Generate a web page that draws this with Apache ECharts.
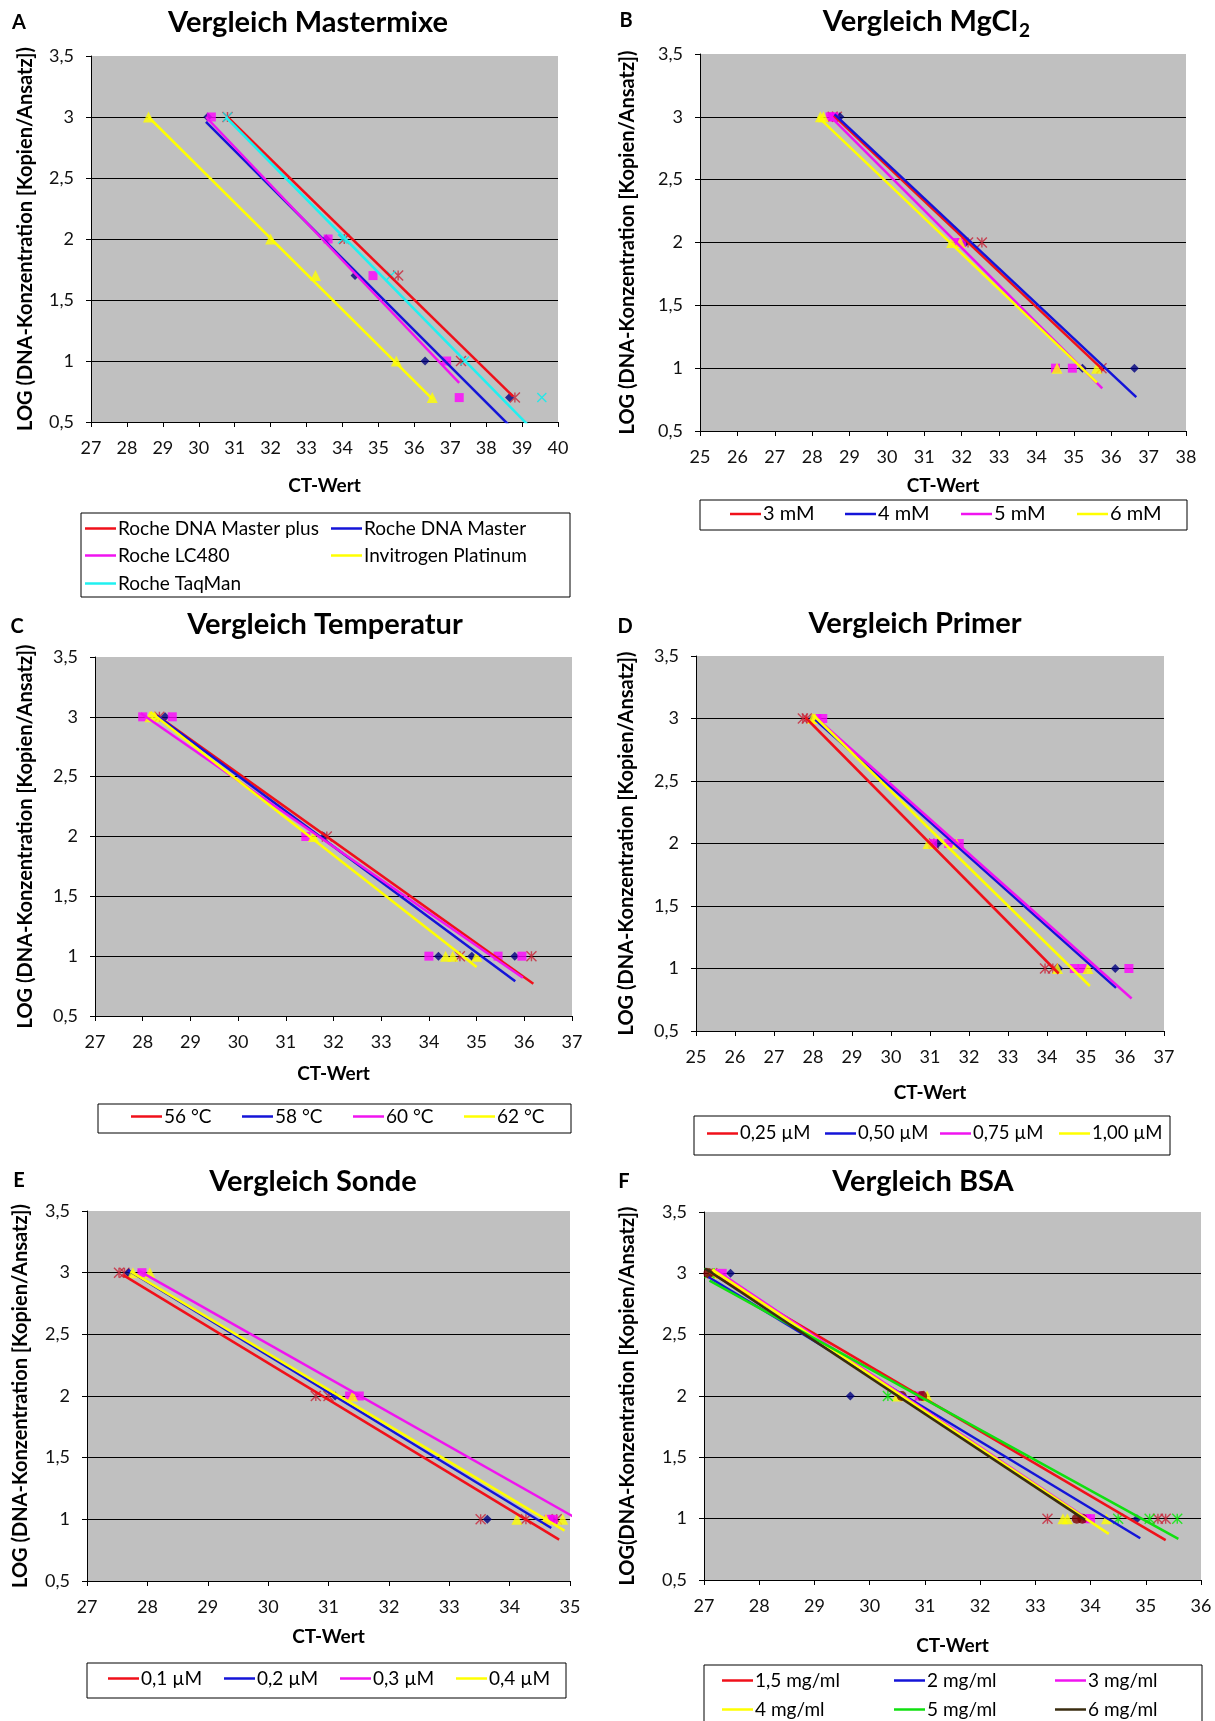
<!DOCTYPE html>
<html><head><meta charset="utf-8">
<script src="https://cdn.jsdelivr.net/npm/echarts@6/dist/echarts.min.js"></script>
<style>html,body{margin:0;padding:0;background:#fff}#c{width:1215px;height:1721px}</style>
</head><body><div id="c"></div>
<script>
// ---------------- DATA ----------------
// Y tick values shared by all panels
const yTicks = [0.5, 1, 1.5, 2, 2.5, 3, 3.5];

// A: Vergleich Mastermixe
const namesA = ['Roche DNA Master plus', 'Roche DNA Master', 'Roche LC480', 'Invitrogen Platinum', 'Roche TaqMan'];
const ptsA_masterPlus = [[30.8,3],[34.05,2],[35.55,1.7],[37.3,1],[38.8,0.7]];
const ptsA_master     = [[30.25,3],[33.55,2],[34.35,1.7],[36.3,1],[38.65,0.7]];
const ptsA_lc480      = [[30.35,3],[33.6,2],[34.85,1.7],[36.9,1],[37.25,0.7]];
const ptsA_invitrogen = [[28.6,3],[32.0,2],[33.25,1.7],[35.5,1],[36.5,0.7]];
const ptsA_taqman     = [[30.8,3],[34.0,2],[35.35,1.7],[37.4,1],[39.55,0.7]];
const fitA_masterPlus = [[30.8,3.0],[38.75,0.71]];
const fitA_master     = [[30.2,2.96],[38.65,0.47]];
const fitA_lc480      = [[30.2,3.0],[37.25,0.82]];
const fitA_invitrogen = [[28.6,3.0],[36.5,0.69]];
const fitA_taqman     = [[30.75,3.0],[39.55,0.36]];

// B: Vergleich MgCl2
const namesB = ['3 mM', '4 mM', '5 mM', '6 mM'];
const ptsB_3 = [[28.55,3],[28.66,3],[32.17,2],[32.54,2],[35.74,1]];
const ptsB_4 = [[28.74,3],[32.1,2],[35.23,1],[36.62,1]];
const ptsB_5 = [[28.48,3],[28.58,3],[31.85,2],[32.0,2],[34.51,1],[34.96,1]];
const ptsB_6 = [[28.22,3],[28.3,3],[31.73,2],[31.96,2],[34.55,1],[35.61,1]];
const fitB_3 = [[28.58,3.01],[35.8,0.98]];
const fitB_4 = [[28.6,3.02],[36.67,0.77]];
const fitB_5 = [[28.43,3.02],[35.76,0.84]];
const fitB_6 = [[28.16,3.0],[35.62,0.885]];

// C: Vergleich Temperatur
const namesC = ['56 °C', '58 °C', '60 °C', '62 °C'];
const ptsC_56 = [[28.35,3],[31.86,2],[34.65,1],[36.15,1]];
const ptsC_58 = [[28.47,3],[31.8,2],[34.2,1],[34.9,1],[35.8,1]];
const ptsC_60 = [[28.0,3],[28.62,3],[31.42,2],[34.0,1],[35.45,1],[35.95,1]];
const ptsC_62 = [[28.15,3],[28.25,3],[31.58,2],[34.35,1],[34.5,1],[35.0,1]];
const fitC_56 = [[28.3,3.01],[36.19,0.77]];
const fitC_58 = [[28.3,3.01],[35.81,0.79]];
const fitC_60 = [[27.96,3.03],[35.97,0.82]];
const fitC_62 = [[28.16,3.04],[35.0,0.91]];

// D: Vergleich Primer
const namesD = ['0,25 µM', '0,50 µM', '0,75 µM', '1,00 µM'];
const ptsD_025 = [[27.74,3],[27.84,3],[31.1,2],[33.95,1],[34.15,1]];
const ptsD_050 = [[28.0,3],[31.2,2],[34.3,1],[35.75,1]];
const ptsD_075 = [[28.1,3],[28.25,3],[31.07,2],[31.48,2],[31.75,2],[34.7,1],[34.9,1],[36.1,1]];
const ptsD_100 = [[27.99,3],[28.05,3],[30.95,2],[31.68,2],[34.27,1],[35.05,1]];
const fitD_025 = [[27.8,3.01],[34.3,0.96]];
const fitD_050 = [[28.06,2.99],[35.77,0.845]];
const fitD_075 = [[28.1,3.0],[36.17,0.76]];
const fitD_100 = [[28.0,3.03],[35.1,0.86]];

// E: Vergleich Sonde
const namesE = ['0,1 µM', '0,2 µM', '0,3 µM', '0,4 µM'];
const ptsE_01 = [[27.53,3],[27.62,3],[30.79,2],[31.0,2],[33.52,1],[34.27,1],[34.78,1]];
const ptsE_02 = [[27.69,3],[31.11,2],[33.63,1],[34.69,1]];
const ptsE_03 = [[27.91,3],[31.35,2],[31.51,2],[34.65,1],[34.72,1]];
const ptsE_04 = [[27.76,3],[28.04,3],[31.4,2],[34.12,1],[34.6,1],[34.88,1]];
const fitE_01 = [[27.6,2.98],[34.82,0.836]];
const fitE_02 = [[27.68,3.02],[34.69,0.93]];
const fitE_03 = [[27.84,3.02],[35.1,1.01]];
const fitE_04 = [[27.72,3.01],[34.91,0.908]];

// F: Vergleich BSA
const namesF = ['1,5 mg/ml', '2 mg/ml', '3 mg/ml', '4 mg/ml', '5 mg/ml', '6 mg/ml'];
const ptsF_15 = [[27.15,3],[30.9,2],[33.22,1],[35.22,1],[35.36,1]];
const ptsF_2  = [[27.48,3],[29.65,2],[34.84,1]];
const ptsF_3  = [[27.33,3],[30.9,2],[33.93,1],[34.0,1]];
const ptsF_4  = [[27.2,3],[30.5,2],[31.04,2],[33.5,1],[33.58,1],[34.29,1]];
const ptsF_5  = [[27.1,3],[30.33,2],[34.5,1],[35.07,1],[35.57,1]];
const ptsF_6  = [[27.08,3],[30.58,2],[30.95,2],[33.75,1],[33.85,1]];
const fitF_15 = [[27.1,3.01],[35.36,0.825]];
const fitF_2  = [[27.08,2.97],[34.9,0.84]];
const fitF_3  = [[27.2,3.03],[34.0,0.98]];
const fitF_4  = [[27.15,3.03],[34.33,0.876]];
const fitF_5  = [[27.1,2.94],[35.59,0.835]];
const fitF_6  = [[27.02,3.04],[33.9,0.99]];

// ---------------- STYLE / LAYOUT ----------------
const FONT = 'Lato, "Open Sans", sans-serif';
const C = {red:'#f0101a', blue:'#1414d8', mag:'#f014f0', yel:'#ffff00', cyan:'#20f0f0', green:'#10e010', brown:'#3a2c10'};
const STAR = 'path://M0,0L10,10M10,0L0,10M5,0L5,10';
const XMK = 'path://M0,0L10,10M10,0L0,10';
const MK = {
  star:{symbol:STAR, size:10, stroke:'#c82438'},
  diamond:{symbol:'diamond', size:9, fill:'#000080'},
  square:{symbol:'rect', size:9, fill:'#ff00ff'},
  tri:{symbol:'triangle', size:11, fill:'#ffff00'},
  x:{symbol:XMK, size:9, stroke:'#00f0f0'},
  gstar:{symbol:STAR, size:10, stroke:'#00ee00'},
  circle:{symbol:'circle', size:10, fill:'#800000'}
};
const YNAME = 'LOG (DNA-Konzentration [Kopien/Ansatz])';
const TICK_FS = 18, NAME_FS = 19, YNAME_FS = 20, TITLE_FS = 29;

const panels = [
  {names:namesA, pts:[ptsA_masterPlus,ptsA_master,ptsA_lc480,ptsA_invitrogen,ptsA_taqman],
   fits:[fitA_masterPlus,fitA_master,fitA_lc480,fitA_invitrogen,fitA_taqman],
   colors:[C.red,C.blue,C.mag,C.yel,C.cyan], marks:[MK.star,MK.diamond,MK.square,MK.tri,MK.x],
   xMin:27, xMax:40, grid:{left:91,top:56,width:467,height:366}, yGap:55, xGap:54, yName:YNAME,
   leg:[[85,530],[331,530],[85,557],[331,557],[85,585]], legFs:19, box:[81,513,489,84],
   title:'Vergleich Mastermixe', tx:308, ty:23, letter:'A', lx:19, ly:23},
  {names:namesB, pts:[ptsB_3,ptsB_4,ptsB_5,ptsB_6], fits:[fitB_3,fitB_4,fitB_5,fitB_6],
   colors:[C.red,C.blue,C.mag,C.yel], marks:[MK.star,MK.diamond,MK.square,MK.tri],
   xMin:25, xMax:38, grid:{left:700,top:54,width:486,height:377}, yGap:62, xGap:45, yName:YNAME,
   leg:[[730,515],[845,515],[961,515],[1077,515]], legFs:20, box:[700,500,487,30],
   title:null, letter:'B', lx:626, ly:21},
  {names:namesC, pts:[ptsC_56,ptsC_58,ptsC_60,ptsC_62], fits:[fitC_56,fitC_58,fitC_60,fitC_62],
   colors:[C.red,C.blue,C.mag,C.yel], marks:[MK.star,MK.diamond,MK.square,MK.tri],
   xMin:27, xMax:37, grid:{left:95,top:657,width:477,height:359}, yGap:59, xGap:48, yName:YNAME,
   leg:[[131,1118],[242,1118],[353,1118],[464,1118]], legFs:19, box:[98,1104,473,29],
   title:'Vergleich Temperatur', tx:325, ty:625, letter:'C', lx:17, ly:627},
  {names:namesD, pts:[ptsD_025,ptsD_050,ptsD_075,ptsD_100], fits:[fitD_025,fitD_050,fitD_075,fitD_100],
   colors:[C.red,C.blue,C.mag,C.yel], marks:[MK.star,MK.diamond,MK.square,MK.tri],
   xMin:25, xMax:37, grid:{left:696,top:656,width:468,height:375}, yGap:59, xGap:52, yName:YNAME,
   leg:[[707,1135],[825,1135],[940,1135],[1059,1135]], legFs:18.5, box:[694,1116,476,39],
   title:'Vergleich Primer', tx:915, ty:624, letter:'D', lx:625, ly:627},
  {names:namesE, pts:[ptsE_01,ptsE_02,ptsE_03,ptsE_04], fits:[fitE_01,fitE_02,fitE_03,fitE_04],
   colors:[C.red,C.blue,C.mag,C.yel], marks:[MK.star,MK.diamond,MK.square,MK.tri],
   xMin:27, xMax:35, grid:{left:87,top:1211,width:483,height:370}, yGap:56, xGap:46, yName:YNAME,
   leg:[[108,1680],[224,1680],[340,1680],[456,1680]], legFs:19, box:[87,1663,479,35],
   title:'Vergleich Sonde', tx:313, ty:1182, letter:'E', lx:19, ly:1181},
  {names:namesF, pts:[ptsF_15,ptsF_2,ptsF_3,ptsF_4,ptsF_5,ptsF_6], fits:[fitF_15,fitF_2,fitF_3,fitF_4,fitF_5,fitF_6],
   colors:[C.red,C.blue,C.mag,C.yel,C.green,C.brown], marks:[MK.star,MK.diamond,MK.square,MK.tri,MK.gstar,MK.circle],
   xMin:27, xMax:36, grid:{left:704,top:1212,width:497,height:368}, yGap:66, xGap:56, yName:'LOG(DNA-Konzentration [Kopien/Ansatz])',
   leg:[[722,1682],[894,1682],[1055,1682],[722,1711],[894,1711],[1055,1711]], legFs:19, box:[704,1665,498,70],
   title:'Vergleich BSA', tx:923, ty:1182, letter:'F', lx:624, ly:1182}
];

const fmt = v => String(Math.round(v*10)/10).replace('.', ',');

const option = {animation:false, backgroundColor:'#fff', grid:[], xAxis:[], yAxis:[], series:[], legend:[], graphic:[]};

panels.forEach((p, k) => {
  option.grid.push(Object.assign({show:true, backgroundColor:'#c0c0c0', borderWidth:0, containLabel:false, outerBoundsMode:'none'}, p.grid));
  option.xAxis.push({gridIndex:k, type:'value', min:p.xMin, max:p.xMax, interval:1,
    name:'CT-Wert', nameLocation:'middle', nameGap:p.xGap,
    nameTextStyle:{fontFamily:FONT, fontWeight:'bold', fontSize:NAME_FS, color:'#000'},
    axisLine:{show:true, onZero:false, lineStyle:{color:'#000', width:1}},
    axisTick:{show:true, length:5, lineStyle:{color:'#000'}},
    axisLabel:{fontFamily:FONT, fontSize:TICK_FS, color:'#111', margin:17, formatter:fmt},
    splitLine:{show:false}});
  option.yAxis.push({gridIndex:k, type:'value', min:yTicks[0], max:yTicks[yTicks.length-1], interval:0.5,
    name:p.yName, nameLocation:'middle', nameGap:p.yGap,
    nameTextStyle:{fontFamily:FONT, fontWeight:'bold', fontSize:YNAME_FS, color:'#000'},
    axisLine:{show:true, onZero:false, lineStyle:{color:'#000', width:1}},
    axisTick:{show:true, length:5, lineStyle:{color:'#000'}},
    axisLabel:{fontFamily:FONT, fontSize:TICK_FS, color:'#111', margin:17, formatter:fmt},
    splitLine:{show:true, showMaxLine:false, lineStyle:{color:'#000', width:1.2}}});
  p.names.forEach((nm, i) => {
    const m = p.marks[i];
    option.series.push({type:'scatter', name:nm + ' (Messwerte)', xAxisIndex:k, yAxisIndex:k,
      data:p.pts[i], symbol:m.symbol, symbolSize:m.size, z:2,
      itemStyle: m.stroke ? {color:'rgba(0,0,0,0)', borderColor:m.stroke, borderWidth:1.4}
                          : {color:m.fill, borderWidth:0}});
    option.series.push({type:'line', name:nm, xAxisIndex:k, yAxisIndex:k, data:p.fits[i],
      showSymbol:false, symbol:'none', color:p.colors[i], itemStyle:{color:p.colors[i]},
      lineStyle:{color:p.colors[i], width:2.5}, z:3, clip:true});
    option.legend.push({left:p.leg[i][0], top:p.leg[i][1]-11, data:[nm], icon:'rect',
      itemWidth:31, itemHeight:2.5, padding:0, selectedMode:false,
      textStyle:{fontFamily:FONT, fontSize:p.legFs, color:'#000', padding:[0,0,0,-3]}});
  });
  option.graphic.push({type:'rect', shape:{x:p.box[0], y:p.box[1], width:p.box[2], height:p.box[3]},
    style:{fill:'none', stroke:'#000', lineWidth:1}, silent:true});
  option.graphic.push({type:'text', x:p.lx, y:p.ly, style:{text:p.letter, font:'bold 20px ' + FONT, fill:'#000',
    textAlign:'center', textVerticalAlign:'middle', align:'center', verticalAlign:'middle'}});
  if (p.title) {
    option.graphic.push({type:'text', x:p.tx, y:p.ty, style:{text:p.title, font:'bold ' + TITLE_FS + 'px ' + FONT, fill:'#000',
      textAlign:'center', textVerticalAlign:'middle', align:'center', verticalAlign:'middle'}});
  }
});
// B title with subscript
option.graphic.push({type:'text', x:1018, y:22, style:{text:'Vergleich MgCl', font:'bold ' + TITLE_FS + 'px ' + FONT, fill:'#000',
  textAlign:'right', textVerticalAlign:'middle', align:'right', verticalAlign:'middle'}});
option.graphic.push({type:'text', x:1019, y:31, style:{text:'2', font:'bold 19px ' + FONT, fill:'#000',
  textAlign:'left', textVerticalAlign:'middle', align:'left', verticalAlign:'middle'}});

const chart = echarts.init(document.getElementById('c'), null, {renderer:'canvas'});
chart.setOption(option);
</script></body></html>
